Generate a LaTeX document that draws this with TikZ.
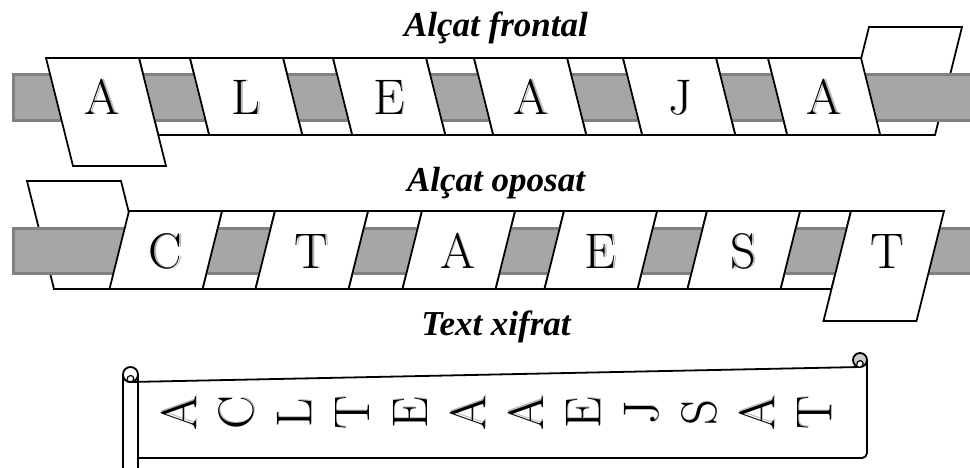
\documentclass[tikz,border=0pt]{standalone}
\usepackage{fontspec}
\newfontfamily\titlefont{Liberation Serif}
\definecolor{rodfill}{HTML}{A6A6A6}
\definecolor{rodedge}{HTML}{808080}
\begin{document}
\begin{tikzpicture}[x=1pt,y=-1pt,line join=miter,
  edge/.style={draw=black,line width=1.8pt,fill=white},
  rod/.style={fill=rodfill,draw=rodedge,line width=3pt},
  letter/.style={font=\fontsize{50}{50}\selectfont,inner sep=0pt},
  shade/.style={letter,text=gray!55},
  title/.style={font=\titlefont\bfseries\itshape\fontsize{35}{35}\selectfont,anchor=base,inner sep=0pt},
  scrollline/.style={draw=black,line width=1.8pt}]
\useasboundingbox (0,0) rectangle (970,468);

% ---------- titles
\node[title] (t1) at (496,37) {Alçat frontal};
\node[title] (t2) at (496,192) {Alçat oposat};
\node[title] (t3) at (496,335) {Text xifrat};

% ---------- band 1 (frontal)
\foreach \a/\b in {46/190,190/333,333/474,474/623,623/768}
  \draw[edge] ({\a+93},58) -- (\b,58) -- ({\b+19.25},135) -- ({\a+112.25},135) -- cycle;
\draw[edge] (869,27) -- (962,27) -- (935,135) -- (842,135) -- cycle;
\draw[rod] (13.5,74.5) rectangle (990,120.5);
\draw[edge] (46,58) -- (139,58) -- (166,166) -- (73,166) -- cycle;
\foreach \x in {190,333,474,623,768}
  \draw[edge] (\x,58) -- ({\x+93},58) -- ({\x+112.25},135) -- ({\x+19.25},135) -- cycle;
\foreach \x/\c/\n in {102/A/1,246/L/2,389/E/3,531/A/4,680/J/5,824/A/6}{
  \node[shade,anchor=base] (fs\n) at ({\x+1.4},114.6) {\c};
  \node[letter,anchor=base] (f\n) at (\x,115) {\c};
}

% ---------- band 2 (oposat)
\foreach \a/\b in {129/275,275/422,422/564,564/707,707/851}
  \draw[edge] ({\a+93},211) -- (\b,211) -- ({\b-19.5},289) -- ({\a+73.5},289) -- cycle;
\draw[edge] (27,181) -- (121,181) -- (148,289) -- (54,289) -- cycle;
\draw[rod] (13.5,228.5) rectangle (990,273.5);
\foreach \x in {129,275,422,564,707}
  \draw[edge] (\x,211) -- ({\x+93},211) -- ({\x+73.5},289) -- ({\x-19.5},289) -- cycle;
\draw[edge] (851,211) -- (944,211) -- (916.5,321) -- (823.5,321) -- cycle;
\foreach \x/\c/\n in {165.5/C/1,311.5/T/2,457.5/A/3,600.5/E/4,743.5/S/5,887/T/6}{
  \node[shade,anchor=base] (os\n) at ({\x+1.4},268.6) {\c};
  \node[letter,anchor=base] (o\n) at (\x,269) {\c};
}

% ---------- scroll
\draw[scrollline] (123,475) -- (123,374.5) arc[start angle=180,end angle=90,radius=7.5] -- (860,367);
\draw[scrollline] (138,475) -- (138,374.5);
\draw[scrollline] (867,360) -- (867,453) arc[start angle=0,end angle=90,radius=5] -- (138,458);
\draw[scrollline,fill=white] (130.5,374.5) circle[radius=7.5];
\draw[line width=1.2pt] (130.5,382) arc[start angle=90,end angle=-200,radius=3.3];
\draw[scrollline,fill=gray!40] (860,360) circle[radius=7];
\draw[line width=1.2pt,fill=white] (860,367) arc[start angle=90,end angle=-200,radius=3.2];
\foreach \c [count=\n] in {A,C,L,T,E,A,A,E,J,S,A,T}{
  \node[shade,rotate=90] (ss\n) at ({179+57.8*(\n-1)+0.5},{413-1.4}) {\c};
  \node[letter,rotate=90] (s\n) at ({179+57.8*(\n-1)},413) {\c};
}
\end{tikzpicture}
\end{document}
